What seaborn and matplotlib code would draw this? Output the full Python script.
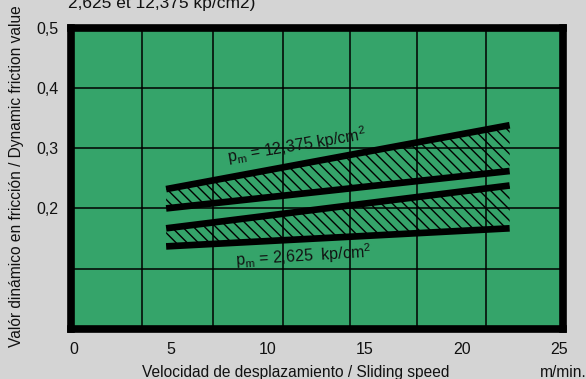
import matplotlib
matplotlib.use("Agg")
import pandas as pd
import matplotlib.pyplot as plt
import seaborn as sns
from matplotlib.ticker import FixedLocator

# Datos (extremos de cada recta)
velocidad = [4.75, 22.45]
alto_sup = [0.232, 0.338]   # p_m = 12,375 kp/cm2, límite superior
alto_inf = [0.200, 0.262]   # p_m = 12,375 kp/cm2, límite inferior
bajo_sup = [0.167, 0.238]   # p_m = 2,625 kp/cm2, límite superior
bajo_inf = [0.137, 0.167]   # p_m = 2,625 kp/cm2, límite inferior

x_ticks = [0, 5, 10, 15, 20, 25]
x_tick_labels = ["0", "5", "10", "15", "20", "25"]
y_ticks = [0.2, 0.3, 0.4, 0.5]
y_tick_labels = ["0,2", "0,3", "0,4", "0,5"]
x_grid = [3.5, 7.15, 10.75, 14.2, 17.7, 21.25]
y_grid = [0.1, 0.2, 0.3, 0.4]

VERDE = "#35a46a"
GRIS = "#d4d4d4"

sns.set_theme(style="white")
plt.rcParams["font.family"] = ["Liberation Sans", "DejaVu Sans"]
plt.rcParams["hatch.linewidth"] = 1.0

df = pd.DataFrame({
    "velocidad": velocidad * 4,
    "friccion": alto_sup + alto_inf + bajo_sup + bajo_inf,
    "serie": ["alto_sup"] * 2 + ["alto_inf"] * 2 + ["bajo_sup"] * 2 + ["bajo_inf"] * 2,
})

fig = plt.figure(figsize=(5.86, 3.79), dpi=100, facecolor=GRIS)
ax = fig.add_axes([0.1212, 0.1319, 0.8396, 0.7955])
ax.set_facecolor(VERDE)

# Zonas rayadas entre las rectas
rayado = "\\" * 3
ax.fill_between(velocidad, alto_inf, alto_sup, facecolor="none",
                edgecolor="black", hatch=rayado, linewidth=0, zorder=2)
ax.fill_between(velocidad, bajo_inf, bajo_sup, facecolor="none",
                edgecolor="black", hatch=rayado, linewidth=0, zorder=2)

sns.lineplot(data=df, x="velocidad", y="friccion", units="serie",
             estimator=None, color="black", linewidth=4.8, ax=ax,
             legend=False, zorder=3)
for line in ax.get_lines():
    line.set_solid_capstyle("butt")

ax.set_xlim(-0.15, 25.2)
ax.set_ylim(0, 0.5)

ax.set_xticks(x_ticks)
ax.set_xticklabels(x_tick_labels, fontsize=11.5)
ax.set_yticks(y_ticks)
ax.set_yticklabels(y_tick_labels, fontsize=11.5)
ax.xaxis.set_minor_locator(FixedLocator(x_grid))
ax.yaxis.set_minor_locator(FixedLocator(y_grid))
ax.xaxis.remove_overlapping_locs = False
ax.yaxis.remove_overlapping_locs = False
ax.grid(False)
ax.grid(which="minor", color="black", linewidth=1.1)
ax.tick_params(which="both", length=0)
ax.tick_params(axis="x", pad=9, colors="#111111")
ax.tick_params(axis="y", pad=9, colors="#111111")

for s in ax.spines.values():
    s.set_visible(True)
    s.set_color("black")
    s.set_linewidth(5.5)
    s.set_zorder(5)

ax.set_xlabel("")
ax.set_ylabel("")

# Rótulos de presión
ax.text(11.5, 0.304, r"p$_\mathregular{m}$ = 12,375 kp/cm$^\mathregular{2}$",
        fontsize=11.5, rotation=9.5, ha="center", va="center", color="#111111",
        rotation_mode="anchor", zorder=4)
ax.text(11.8, 0.121, r"p$_\mathregular{m}$ = 2,625  kp/cm$^\mathregular{2}$",
        fontsize=11.5, rotation=3.5, ha="center", va="center", color="#111111",
        rotation_mode="anchor", zorder=4)

# Textos de ejes y título recortado
fig.text(0.028, 0.535, "Valór dinámico en fricción / Dynamic friction value",
         rotation=90, ha="center", va="center", fontsize=11.2, color="#111111")
fig.text(0.504, 0.018, "Velocidad de desplazamiento / Sliding speed",
         ha="center", va="center", fontsize=11.2, color="#111111")
fig.text(0.921, 0.018, "m/min.", ha="left", va="center", fontsize=11.2,
         color="#111111")
fig.text(0.116, 1 - 8 / 379, "2,625 et 12,375 kp/cm2)", ha="left",
         va="baseline", fontsize=12.5, color="#111111")

fig.savefig("out.png", dpi=100, facecolor=GRIS)
